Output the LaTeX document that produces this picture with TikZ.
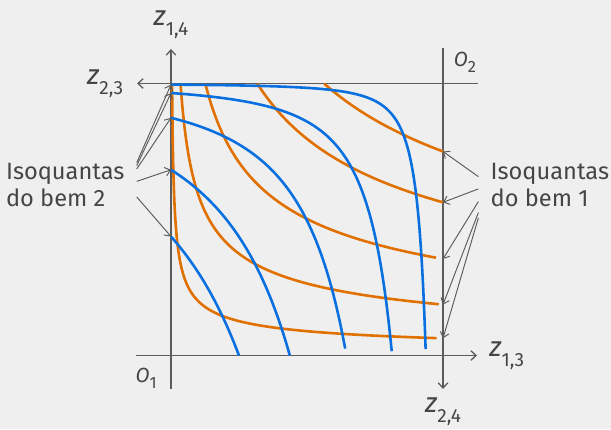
\documentclass[tikz,border=0pt]{standalone}
\usepackage{fontspec}
\setmainfont{Fira Sans}
\usetikzlibrary{arrows.meta,positioning,calc}
\definecolor{bgcolor}{HTML}{EFEFEF}
\definecolor{axiscolor}{HTML}{5C5C5C}
\definecolor{labelcolor}{HTML}{454545}
\definecolor{goodonecolor}{HTML}{E07000}
\definecolor{goodtwocolor}{HTML}{0A70E0}
\newcommand{\zlab}[1]{\fontsize{20.5}{22}\selectfont\textit{z}\raisebox{-7.5pt}{\fontsize{14}{16}\selectfont #1}}
\newcommand{\olab}[1]{\fontsize{15}{16}\selectfont\textit{O}\raisebox{-4.7pt}{\fontsize{12}{14}\selectfont #1}}

\begin{document}
\begin{tikzpicture}[x=7cm, y=7cm,
    axis/.style={draw=axiscolor, line width=0.95pt},
    axisarrow/.style={axis, -{Straight Barb[length=3.8pt, width=7pt]}},
    axislabel/.style={inner sep=0pt, text=labelcolor},
    isoone/.style={draw=goodonecolor, line width=1.9pt},
    isotwo/.style={draw=goodtwocolor, line width=1.9pt},
    pointer/.style={draw=axiscolor, line width=0.7pt, -{Straight Barb[length=3.8pt, width=6.5pt]}},
    isolabel/.style={font=\fontsize{17.3}{20.4}\selectfont, text=labelcolor, align=left,
        inner xsep=8.8pt, inner ysep=0pt}
]

% Background
\fill[bgcolor] (-0.6287,-0.2702) rectangle (1.6176,1.3070);
\useasboundingbox (-0.6287,-0.2702) rectangle (1.6176,1.3070);

% Origins and axis ends
\coordinate (O1) at (0,0);
\coordinate (O2) at (1,1);
\coordinate (x1start) at (-0.128,0);
\coordinate (y1start) at (0,-0.123);
\coordinate (x2start) at (1.128,1);
\coordinate (y2start) at (1,1.13);
\coordinate (z13end) at (1.125,0);
\coordinate (z14end) at (0,1.127);
\coordinate (z23end) at (-0.125,1);
\coordinate (z24end) at (1,-0.123);

% Axes
\draw[axisarrow] (x1start) -- (z13end);
\draw[axisarrow] (y1start) -- (z14end);
\draw[axisarrow] (x2start) -- (z23end);
\draw[axisarrow] (y2start) -- (z24end);

\node[axislabel, above=7pt of z14end] (lz14) {\zlab{1,4}};
\node[axislabel, left=10pt of z23end] (lz23) {\zlab{2,3}};
\node[axislabel, right=8.8pt of z13end] (lz13) {\zlab{1,3}};
\node[axislabel, below=6pt of z24end] (lz24) {\zlab{2,4}};
\node[axislabel, anchor=north east] (lo1) at ([xshift=-10.2pt, yshift=-9.1pt]O1) {\olab{1}};
\node[axislabel, anchor=south west] (lo2) at ([xshift=7.8pt, yshift=7.9pt]O2) {\olab{2}};

% Isoquants of good 1 (from O1)
\foreach \k/\n in {0.004/1, 0.035/2, 0.126/3, 0.317/4, 0.5625/5}{
    \pgfmathsetmacro\lo{0.5*ln(\k)}
    \draw[isoone] plot[domain=\lo:0, samples=80, variable=\t] ({\k*exp(-2*\t)}, {exp(\t)});
    \coordinate (one\n) at (1, {sqrt(\k)});
}

% Isoquants of good 2 (from O2)
\foreach \k/\n in {0.004/1, 0.035/2, 0.126/3, 0.317/4, 0.5625/5}{
    \pgfmathsetmacro\lo{0.5*ln(\k)}
    \draw[isotwo] plot[domain=\lo:0, samples=80, variable=\t] ({1-exp(\t)}, {1-\k*exp(-2*\t)});
    \coordinate (two\n) at (0, {1-\k});
}

% Labels and pointers
\node[isolabel, anchor=east] (iso2) at (-0.126,0.627) {Isoquantas\\do bem 2};
\node[isolabel, anchor=west] (iso1) at (1.13,0.627) {Isoquantas\\do bem 1};

\draw[pointer] ([yshift=16.3pt]iso2.east) -- (two1);
\draw[pointer] ([yshift=14.2pt]iso2.east) -- (two2);
\draw[pointer] ([yshift=11.7pt]iso2.east) -- (two3);
\draw[pointer] ([yshift=2.6pt]iso2.east) -- (two4);
\draw[pointer] ([yshift=-8.8pt]iso2.east) -- (two5);

\draw[pointer] ([yshift=6.1pt]iso1.west) -- (one5);
\draw[pointer] ([yshift=-2.9pt]iso1.west) -- (one4);
\draw[pointer] ([yshift=-12.2pt]iso1.west) -- (one3);
\draw[pointer] ([yshift=-20.2pt]iso1.west) -- (one2);
\draw[pointer] ([yshift=-24.1pt]iso1.west) -- (one1);

\end{tikzpicture}
\end{document}
